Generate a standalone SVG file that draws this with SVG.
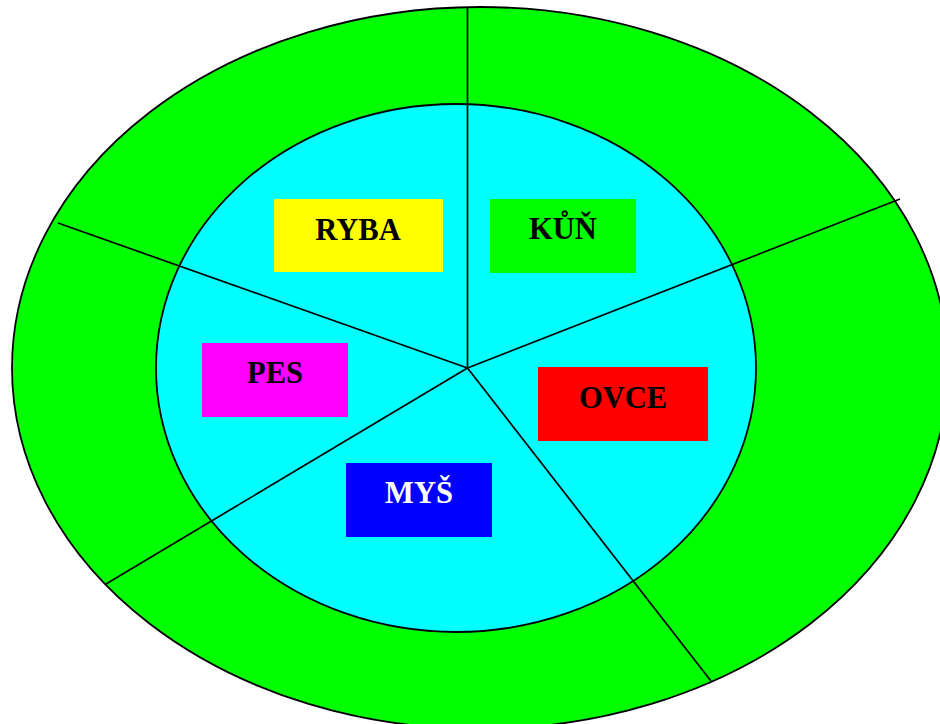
<svg xmlns="http://www.w3.org/2000/svg" width="940" height="724" viewBox="0 0 940 724">
  <style>
    .ring { stroke: #000; stroke-width: 1.8; }
    .conn line { stroke: #000; stroke-width: 1.7; }
    .lbl { font-family: "Liberation Serif", "Times New Roman", serif; font-weight: bold; font-size: 30.5px; text-anchor: middle; }
  </style>
  <rect width="940" height="724" fill="#fff"/>
  <g id="outer">
    <ellipse class="ring" cx="480" cy="368" rx="468" ry="361" fill="#00ff00"/>
  </g>
  <g id="inner">
    <ellipse class="ring" cx="456" cy="368" rx="300" ry="264" fill="#00ffff"/>
  </g>
  <g id="connectors" class="conn">
    <line x1="467.5" y1="368" x2="467.5" y2="7"/>
    <line x1="467.5" y1="368" x2="900" y2="199"/>
    <line x1="467.5" y1="368" x2="711" y2="681"/>
    <line x1="467.5" y1="368" x2="106" y2="584"/>
    <line x1="467.5" y1="368" x2="58" y2="223"/>
  </g>
  <g id="ryba">
    <rect x="274" y="199" width="169" height="73" fill="#ffff00"/>
    <text class="lbl" x="358" y="240" fill="#000">RYBA</text>
  </g>
  <g id="kun">
    <rect x="490" y="199" width="146" height="74" fill="#00ff00"/>
    <text class="lbl" x="563" y="239" fill="#000">KŮŇ</text>
  </g>
  <g id="pes">
    <rect x="202" y="343" width="146" height="74" fill="#ff00ff"/>
    <text class="lbl" x="275" y="383" fill="#000">PES</text>
  </g>
  <g id="ovce">
    <rect x="538" y="367" width="170" height="74" fill="#ff0000"/>
    <text class="lbl" x="623" y="408" fill="#000">OVCE</text>
  </g>
  <g id="mys">
    <rect x="346" y="463" width="146" height="74" fill="#0000ff"/>
    <text class="lbl" x="419" y="503" fill="#fff">MYŠ</text>
  </g>
</svg>
